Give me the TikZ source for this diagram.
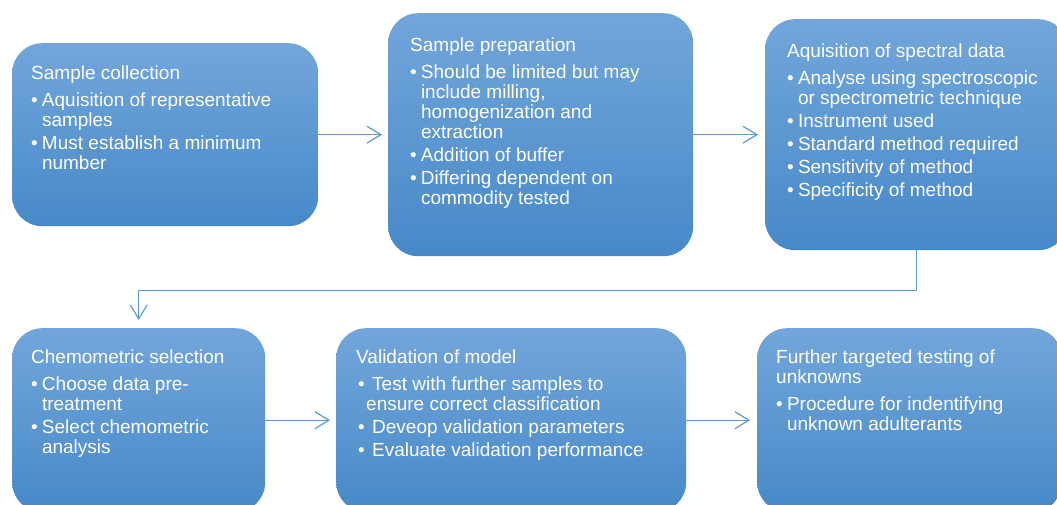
\documentclass[tikz,border=0pt]{standalone}
\usepackage{fontspec}
\setmainfont{Liberation Sans}
\usetikzlibrary{arrows.meta}

\definecolor{boxtop}{RGB}{114,166,219}
\definecolor{boxmid}{RGB}{84,152,219}
\definecolor{boxbot}{RGB}{71,137,200}
\definecolor{flowline}{RGB}{91,155,213}

% bullet items with a hanging indent
\newlength\bulw \setlength\bulw{10.8pt}
\newcommand\itm{\makebox[\bulw][l]{\textbullet}}
\newcommand\cnt{\hspace*{\bulw}}
% spaced variant of the bullet
\newcommand\sitm{\hspace*{2pt}\makebox[14pt][l]{\textbullet}}
\newcommand\scnt{\hspace*{10pt}}

\begin{document}
\begin{tikzpicture}[x=1pt, y=-1pt,
  stage/.style = {rounded corners=30pt, top color=boxtop, middle color=boxmid, bottom color=boxbot, inner sep=0pt, anchor=north west},
  words/.style = {text=white, font=\fontsize{19}{20}\selectfont, align=left, inner sep=0pt, anchor=north west},
  flow/.style = {draw=flowline, line width=1.2pt, -{Straight Barb[length=14pt, width=17pt, line width=1.2pt]}}]
  \clip (0,0) rectangle (1057,505);

  % boxes
  \node[stage, minimum width=306pt, minimum height=183pt] (collect) at (12,43) {};
  \node[stage, minimum width=305pt, minimum height=243pt] (prep) at (388,13) {};
  \node[stage, minimum width=303pt, minimum height=231pt] (acq) at (765,19) {};
  \node[stage, minimum width=253pt, minimum height=184pt] (chemo) at (12,328) {};
  \node[stage, minimum width=350pt, minimum height=184pt] (valid) at (336,328) {};
  \node[stage, minimum width=305pt, minimum height=184pt] (further) at (757,328) {};

  % texts
  \node[words] (collecttext) at (31,65.4) {Sample collection\\[7pt]
    \itm Aquisition of representative\\ \cnt samples\\[3pt]
    \itm Must establish a minimum\\ \cnt number};
  \node[words] (preptext) at (410,37.4) {Sample preparation\\[7pt]
    \itm Should be limited but may\\ \cnt include milling,\\ \cnt homogenization and\\ \cnt extraction\\[3pt]
    \itm Addition of buffer\\[3pt]
    \itm Differing dependent on\\ \cnt commodity tested};
  \node[words] (acqtext) at (787,43.7) {Aquisition of spectral data\\[7pt]
    \itm Analyse using spectroscopic\\ \cnt or spectrometric technique\\[3pt]
    \itm Instrument used\\[3pt]
    \itm Standard method required\\[3pt]
    \itm Sensitivity of method\\[3pt]
    \itm Specificity of method};
  \node[words] (chemotext) at (31,349.7) {Chemometric selection\\[7pt]
    \itm Choose data pre-\\ \cnt treatment\\[3pt]
    \itm Select chemometric\\ \cnt analysis};
  \node[words] (validtext) at (356,349.7) {Validation of model\\[7pt]
    \sitm Test with further samples to\\ \scnt ensure correct classification\\[3pt]
    \sitm Deveop validation parameters\\[3pt]
    \sitm Evaluate validation performance};
  \node[words] (furthertext) at (776,349.7) {Further targeted testing of\\ unknowns\\[7pt]
    \itm Procedure for indentifying\\ \cnt unknown adulterants};

  % arrows
  \draw[flow, shorten >=6pt] (collect) -- (prep);
  \draw[flow, shorten >=7pt] (prep) -- (acq);
  \draw[flow, shorten >=8pt] (acq.south) -- ++(0,40) -| (chemo.north);
  \draw[flow, shorten >=6pt] (chemo) -- (valid);
  \draw[flow, shorten >=7pt] (valid) -- (further);
\end{tikzpicture}
\end{document}
